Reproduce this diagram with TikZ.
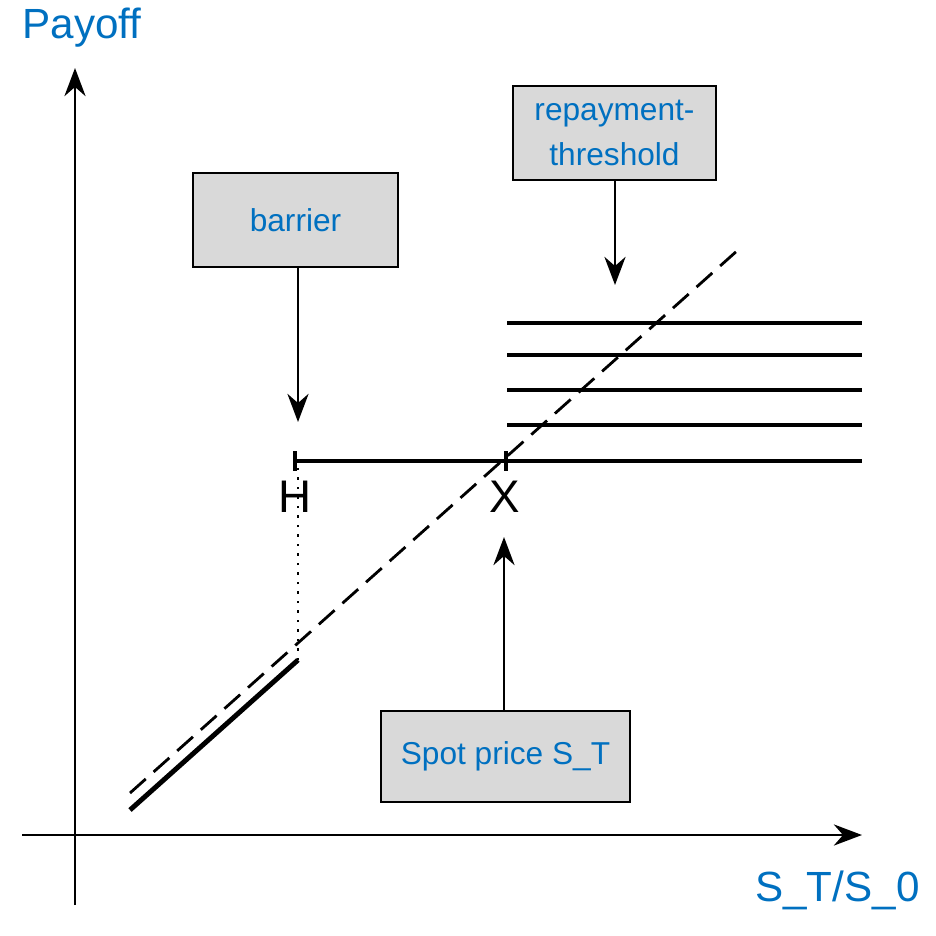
\documentclass[tikz,border=0pt]{standalone}
\usepackage{fontspec}
\setmainfont{Liberation Sans}
\usetikzlibrary{arrows.meta}
\definecolor{tblue}{RGB}{0,112,192}
\definecolor{boxg}{RGB}{217,217,217}
\begin{document}
\begin{tikzpicture}[x=0.01cm,y=-0.01cm,
  box/.style={draw=black,line width=0.8pt,fill=boxg,text=tblue,font=\fontsize{9}{11}\selectfont,align=center,inner sep=0pt},
  arr/.style={-{Stealth[length=8pt,width=6pt]},line width=0.8pt},
  thick line/.style={line width=1.4pt}]
\useasboundingbox (0,0) rectangle (935,936);
\node[text=tblue,font=\fontsize{12}{14}\selectfont,anchor=west] (pay) at (10,28) {Payoff};
\node[text=tblue,font=\fontsize{12}{14}\selectfont,anchor=east] (st) at (932,890) {S\_T/S\_0};
\coordinate (ya) at (75,905); \coordinate (yb) at (75,68);
\coordinate (xa) at (22,835); \coordinate (xb) at (862,835);
\draw[arr] (ya) -- (yb);
\draw[arr] (xa) -- (xb);
\node[box,minimum width=205*0.01cm,minimum height=94*0.01cm] (bar) at (295.5,220) {barrier};
\node[box,minimum width=203*0.01cm,minimum height=94*0.01cm] (rep) at (614.5,133) {repayment-\\[2pt]threshold};
\node[box,minimum width=249*0.01cm,minimum height=91*0.01cm] (spot) at (505.5,756.5) {Spot price S\_T};
\coordinate (barA) at (298,422);
\coordinate (repA) at (615,285);
\coordinate (spotA) at (504,537);
\draw[arr] (bar.south -| barA) -- (barA);
\draw[arr] (rep.south -| repA) -- (repA);
\draw[arr] (spot.north -| spotA) -- (spotA);
\coordinate (d1) at (130,793); \coordinate (d2) at (738,250);
\draw[dashed,line width=0.8pt,dash pattern=on 6pt off 3pt] (d1) -- (d2);
\coordinate (s1) at (130,810); \coordinate (s2) at (298,660);
\draw[thick line] (s1) -- (s2);
\coordinate (h0) at (298,462);
\draw[dotted,line width=0.7pt] (s2) -- (h0);
\coordinate (hl) at (295,461); \coordinate (hr) at (862,461);
\draw[thick line] (hl) -- (hr);
\draw[line width=1pt] (295,451) -- (295,471);
\draw[line width=1pt] (506,451) -- (506,471);
\node[font=\fontsize{13}{15}\selectfont] (H) at (295,497) {H};
\node[font=\fontsize{13}{15}\selectfont] (X) at (505,497) {X};
\foreach \yy in {323,355,390,425} \draw[thick line] (507,\yy) -- (862,\yy);
\end{tikzpicture}
\end{document}
